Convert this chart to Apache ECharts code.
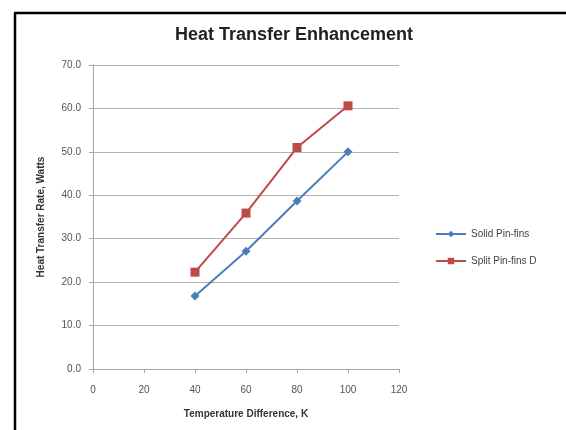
<!DOCTYPE html>
<html>
<head>
<meta charset="utf-8">
<script src="https://cdn.jsdelivr.net/npm/echarts@6/dist/echarts.min.js"></script>
<style>
  html, body { margin: 0; padding: 0; background: #fff; }
  #chart { width: 566px; height: 430px; }
</style>
</head>
<body>
<div id="chart"></div>
<script>
// Temperature difference (K) and heat transfer rate (W) for each fin type
const tempDiff = [40, 60, 80, 100];
const solidPinFins = [16.8, 27.1, 38.7, 50.0];
const splitPinFinsD = [22.3, 35.9, 51.0, 60.6];
const seriesNames = ['Solid Pin-fins', 'Split Pin-fins D'];

const pairs = (xs, ys) => xs.map((x, i) => [x, ys[i]]);

const chart = echarts.init(document.getElementById('chart'), null, { renderer: 'canvas' });
const labelFont = 'Liberation Sans';

chart.setOption({
  animation: false,
  backgroundColor: '#ffffff',
  title: {
    text: 'Heat Transfer Enhancement',
    left: 170,
    top: 21,
    textStyle: { fontFamily: labelFont, fontSize: 18, fontWeight: 'bold', color: '#222' }
  },
  graphic: [
    // frame around the chart (left and top edges)
    { type: 'line', shape: { x1: 15, y1: 13, x2: 15, y2: 440 }, style: { stroke: '#000', lineWidth: 2.5 } },
    { type: 'line', shape: { x1: 14, y1: 13, x2: 580, y2: 13 }, style: { stroke: '#000', lineWidth: 2.5 } }
  ],
  legend: {
    orient: 'vertical',
    left: 430,
    top: 224,
    itemWidth: 30,
    itemHeight: 8,
    itemGap: 17,
    textStyle: { fontFamily: labelFont, fontSize: 10, color: '#444' },
    data: seriesNames
  },
  grid: { left: 93, right: 167, top: 65, bottom: 61, containLabel: false },
  xAxis: {
    type: 'value',
    min: 0, max: 120, interval: 20,
    name: 'Temperature Difference, K',
    nameLocation: 'middle',
    nameGap: 40,
    nameTextStyle: { fontFamily: labelFont, fontSize: 10, fontWeight: 'bold', color: '#333' },
    axisLine: { lineStyle: { color: '#a6a6a6', width: 1 } },
    axisTick: { show: true, length: 4, lineStyle: { color: '#a6a6a6' } },
    axisLabel: { fontFamily: labelFont, fontSize: 10, color: '#555', margin: 16 },
    splitLine: { show: false }
  },
  yAxis: {
    type: 'value',
    min: 0, max: 70, interval: 10,
    name: 'Heat Transfer Rate, Watts',
    nameLocation: 'middle',
    nameGap: 47,
    nameTextStyle: { fontFamily: labelFont, fontSize: 10, fontWeight: 'bold', color: '#333' },
    axisLine: { show: true, lineStyle: { color: '#a6a6a6', width: 1 } },
    axisTick: { show: true, length: 4, lineStyle: { color: '#a6a6a6' } },
    axisLabel: { fontFamily: labelFont, fontSize: 10, color: '#555', margin: 12, formatter: v => v.toFixed(1) },
    splitLine: { show: true, lineStyle: { color: '#b3b3b3', width: 1 } }
  },
  series: [
    {
      name: seriesNames[0],
      type: 'line',
      data: pairs(tempDiff, solidPinFins),
      symbol: 'diamond',
      symbolSize: 9,
      color: '#4a7ebb',
      lineStyle: { width: 2, color: '#4a7ebb' },
      itemStyle: { color: '#4a7ebb' }
    },
    {
      name: seriesNames[1],
      type: 'line',
      data: pairs(tempDiff, splitPinFinsD),
      symbol: 'rect',
      symbolSize: 9,
      color: '#be4b48',
      lineStyle: { width: 2, color: '#be4b48' },
      itemStyle: { color: '#be4b48' }
    }
  ]
});
</script>
</body>
</html>
